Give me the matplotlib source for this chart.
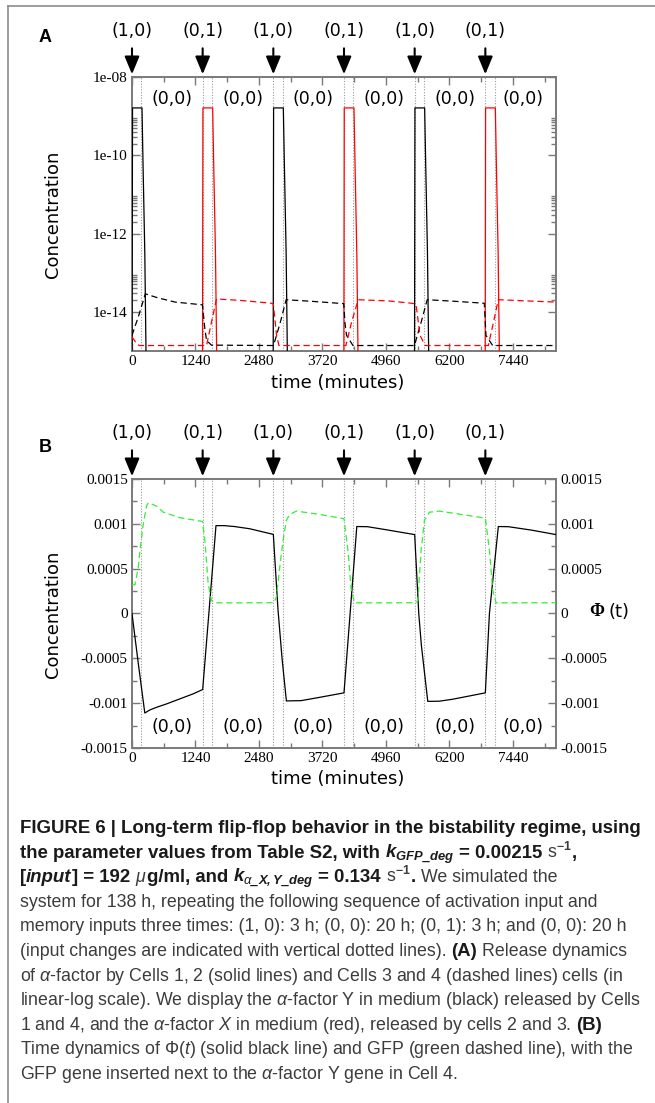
import numpy as np
import matplotlib
matplotlib.use("Agg")
import matplotlib.pyplot as plt
from matplotlib.lines import Line2D
from matplotlib.ticker import FixedLocator, MultipleLocator, NullFormatter
import matplotlib.transforms as mtransforms

plt.rcParams['axes.unicode_minus'] = False
plt.rcParams['mathtext.fontset'] = 'custom'
plt.rcParams['mathtext.rm'] = 'Liberation Sans'
plt.rcParams['mathtext.it'] = 'Liberation Sans:italic'
plt.rcParams['mathtext.bf'] = 'Liberation Sans:bold'
plt.rcParams['mathtext.bfit'] = 'Liberation Sans:italic:bold'

# input sequence (minutes)
arrow_times = [0, 1380, 2760, 4140, 5520, 6900]
arrow_labels = ['(1,0)', '(0,1)', '(1,0)', '(0,1)', '(1,0)', '(0,1)']
change_times = [180, 1380, 1560, 2760, 2940, 4140, 4320, 5520, 5700, 6900, 7080]
rest_times = [780, 2160, 3540, 4920, 6300, 7640]
rest_label = '(0,0)'

x_ticks = [0, 1240, 2480, 3720, 4960, 6200, 7440]
a_yticks = [1e-14, 1e-12, 1e-10, 1e-8]
a_ylabels = ['1e-14', '1e-12', '1e-10', '1e-08']
b_yticks = [-0.0015, -0.001, -0.0005, 0, 0.0005, 0.001, 0.0015]
b_ylabels = ['-0.0015', '-0.001', '-0.0005', '0', '0.0005', '0.001', '0.0015']

# panel A, log10 of concentration
a_black_t = [0, 10, 195, 215, 250, 275, 285, 2755, 2765, 2955, 2975, 3010, 3035, 3045,
             5515, 5525, 5715, 5735, 5770, 5795, 5805, 8280]
a_black_lg = [-16, -8.79, -8.79, -10.2, -12.5, -15.2, -17, -17, -8.79, -8.79, -10.2, -12.5, -15.2, -17,
              -17, -8.79, -8.79, -10.2, -12.5, -15.2, -17, -17]
a_red_t = [0, 1375, 1385, 1575, 1595, 1630, 1655, 1665, 4135, 4145, 4335, 4355, 4390, 4415, 4425,
           6895, 6905, 7095, 7115, 7150, 7175, 7185, 8280]
a_red_lg = [-17, -17, -8.79, -8.79, -10.2, -12.5, -15.2, -17, -17, -8.79, -8.79, -10.2, -12.5, -15.2, -17,
            -17, -8.79, -8.79, -10.2, -12.5, -15.2, -17, -17]
a_blackd_t = [0, 130, 260, 500, 840, 1375, 1420, 1456, 1550, 2760, 2800, 2900, 3010, 3500, 4135,
              4160, 4190, 4315, 5520, 5550, 5650, 5765, 6300, 6880, 6912, 7043, 8280]
a_blackd_lg = [-14.60, -14.10, -13.54, -13.64, -13.75, -13.82, -14.4, -14.73, -14.85, -14.86, -14.7,
               -14.25, -13.69, -13.73, -13.79, -14.3, -14.6, -14.86, -14.86, -14.7, -14.25, -13.69,
               -13.73, -13.78, -14.6, -14.86, -14.86]
a_redd_t = [0, 90, 140, 1380, 1456, 1553, 1650, 2138, 2723, 2760, 2823, 2870, 4140, 4177, 4288, 4418,
            5000, 5460, 5546, 5625, 5723, 6900, 6958, 7060, 7153, 7700, 8280]
a_redd_lg = [-14.64, -14.81, -14.86, -14.86, -14.86, -14.26, -13.67, -13.71, -13.78, -13.8, -14.6,
             -14.86, -14.86, -14.86, -14.26, -13.69, -13.72, -13.78, -13.8, -14.6, -14.86, -14.86,
             -14.86, -14.26, -13.69, -13.72, -13.75]

# panel B, values in units of 1e-4
phi_t = [0, 110, 250, 351, 481, 676, 935, 1195, 1380, 1488, 1640, 1800, 2000, 2300, 2760, 2850, 2930,
         3015, 3300, 3665, 4140, 4250, 4390, 4600, 4965, 5520, 5600, 5650, 5776, 6000, 6264, 6900,
         6980, 7154, 7350, 7800, 8280]
phi_v = [0, -5, -11.1, -10.75, -10.46, -10.08, -9.52, -8.96, -8.48, -0.9, 9.8, 9.8, 9.7, 9.45, 8.82,
         0.5, -5, -9.75, -9.72, -9.35, -8.85, -0.7, 9.7, 9.68, 9.34, 8.8, 0, -3.5, -9.8, -9.78, -9.56,
         -8.85, 0, 9.7, 9.68, 9.3, 8.8]
gfp_t = [0, 58, 124, 156, 221, 286, 325, 481, 611, 936, 1378, 1423, 1488, 1553, 1618, 2768, 2820, 2885,
         2950, 3015, 3080, 3210, 3665, 4140, 4217, 4282, 4347, 5536, 5581, 5646, 5711, 5809, 6004,
         6900, 6980, 7045, 7110, 8280]
gfp_v = [3.2, 3.2, 5.17, 7.03, 10.0, 12.05, 12.36, 11.97, 11.3, 10.68, 10.27, 8.15, 3.31, 1.45, 1.19,
         1.2, 1.82, 5.17, 8.15, 10.4, 11.05, 11.42, 11.05, 10.57, 7.03, 2.57, 1.19, 1.2, 1.45, 7.03,
         10.4, 11.3, 11.42, 10.64, 7.03, 2.57, 1.19, 1.2]

caption = [
    [("FIGURE 6 | Long-term flip-flop behavior in the bistability regime, using", 'b')],
    [("the parameter values from Table S2, with ", 'b'), (r"$\mathbfit{k}_{\mathbfit{GFP\_deg}}$", 'b'),
     (" = 0.00215 ", 'b'), (r"s$^{\mathbf{-1}}$", 'r'), (",", 'b')],
    [("[", 'b'), ("input", 'bi'), ("] = 192 ", 'b'), (r"$\mu$", 'r'), ("g/ml, and ", 'b'),
     (r"$\mathbfit{k}_{\alpha\mathbfit{\_X,Y\_deg}}$", 'b'), (" = 0.134 ", 'b'), (r"s$^{\mathbf{-1}}$", 'r'),
     (".", 'b'), (" We simulated the", 'r')],
    [("system for 138 h, repeating the following sequence of activation input and", 'r')],
    [("memory inputs three times: (1, 0): 3 h; (0, 0): 20 h; (0, 1): 3 h; and (0, 0): 20 h", 'r')],
    [("(input changes are indicated with vertical dotted lines). ", 'r'), ("(A)", 'b'),
     (" Release dynamics", 'r')],
    [(r"of $\alpha$-factor by Cells 1, 2 (solid lines) and Cells 3 and 4 (dashed lines) cells (in", 'r')],
    [(r"linear-log scale). We display the $\alpha$-factor Y in medium (black) released by Cells", 'r')],
    [(r"1 and 4, and the $\alpha$-factor $X$ in medium (red), released by cells 2 and 3. ", 'r'), ("(B)", 'b')],
    [(r"Time dynamics of Φ($t$) (solid black line) and GFP (green dashed line), with the", 'r')],
    [(r"GFP gene inserted next to the $\alpha$-factor Y gene in Cell 4.", 'r')],
]

W, H = 655, 1103
fig = plt.figure(figsize=(W / 100, H / 100), dpi=100)


def fx(px):
    return px / W


def fy(py):
    return 1 - py / H


# grey frame of the figure
fig.add_artist(Line2D([fx(8), fx(8)], [0, fy(6)], color='#8c8c8c', lw=1.2))
fig.add_artist(Line2D([fx(8), 1], [fy(6), fy(6)], color='#8c8c8c', lw=1.2))

axA = fig.add_axes([fx(132), fy(351), 424 / W, 274 / H])
axB = fig.add_axes([fx(132), fy(748), 424 / W, 269 / H])

tick_font = {'family': 'Liberation Serif', 'size': 11}


def style(ax):
    for s in ax.spines.values():
        s.set_color('#7a7a7a')
        s.set_linewidth(1.4)
    ax.set_xlim(0, 8280)
    ax.set_xticks(x_ticks)
    ax.set_xticklabels([str(v) for v in x_ticks], fontdict=tick_font)
    ax.xaxis.set_minor_locator(MultipleLocator(620))
    ax.tick_params(which='both', direction='in', top=True, right=True, color='#7a7a7a', width=1.0)
    ax.tick_params(which='major', length=6, pad=3)
    ax.tick_params(which='minor', length=3.5)
    for t in change_times:
        ax.axvline(t, color='#9a9a9a', ls=(0, (1, 1.5)), lw=0.8, zorder=1)
    tr = mtransforms.blended_transform_factory(ax.transData, ax.transAxes)
    for t, lab in zip(arrow_times, arrow_labels):
        ax.annotate(lab, xy=(t, 1.0), xycoords=tr, xytext=(0, 46), textcoords='offset pixels',
                    ha='center', va='center', fontsize=12.5, family='DejaVu Sans',
                    arrowprops=dict(arrowstyle='-|>,head_length=0.6,head_width=0.25', color='black',
                                    lw=1.5, shrinkA=4, shrinkB=2, mutation_scale=18),
                    annotation_clip=False)
    return tr


# ---- panel A
trA = style(axA)
axA.set_yscale('log')
axA.set_ylim(1e-15, 1e-8)
axA.set_yticks(a_yticks)
axA.set_yticklabels(a_ylabels, fontdict=tick_font)
axA.yaxis.set_minor_locator(FixedLocator([k * 10.0 ** m for m in (-14, -12, -10) for k in range(2, 10)]))
axA.yaxis.set_minor_formatter(NullFormatter())

axA.plot(a_black_t, 10 ** np.array(a_black_lg), color='black', lw=0.9, zorder=3)
axA.plot(a_red_t, 10 ** np.array(a_red_lg), color='#ff0000', lw=0.9, zorder=3)
axA.plot(a_blackd_t, 10 ** np.array(a_blackd_lg), color='black', lw=0.9, dashes=(5, 3), zorder=3)
axA.plot(a_redd_t, 10 ** np.array(a_redd_lg), color='#ff0000', lw=0.9, dashes=(5, 3), zorder=3)
for t in rest_times:
    axA.text(t, 0.92, rest_label, transform=trA, ha='center', va='center', fontsize=12.5, family='DejaVu Sans')

# ---- panel B
trB = style(axB)
axB.set_ylim(-0.0015, 0.0015)
axB.set_yticks(b_yticks)
axB.set_yticklabels(b_ylabels, fontdict=tick_font)
axB.yaxis.set_minor_locator(MultipleLocator(0.00025))
axB.tick_params(axis='y', which='both', labelright=True)
axB.plot(phi_t, np.array(phi_v) * 1e-4, color='black', lw=0.9, zorder=3)
axB.plot(gfp_t, np.array(gfp_v) * 1e-4, color='#33ee33', lw=0.9, dashes=(5, 3), zorder=3)
for t in rest_times:
    axB.text(t, 0.078, rest_label, transform=trB, ha='center', va='center', fontsize=12.5, family='DejaVu Sans')

# labels
for yc in (214, 614):
    fig.text(fx(53), fy(yc), 'Concentration', rotation=90, ha='center', va='center', fontsize=13,
             family='DejaVu Sans')
for yc in (383, 779):
    fig.text(fx(338), fy(yc), 'time (minutes)', ha='center', va='center', fontsize=13, family='DejaVu Sans')
fig.text(fx(45), fy(37), 'A', ha='center', va='center', fontsize=13, weight='bold', family='Liberation Sans')
fig.text(fx(45), fy(447), 'B', ha='center', va='center', fontsize=13, weight='bold', family='Liberation Sans')
fig.text(fx(597), fy(612), 'Φ', ha='center', va='center', fontsize=13, weight='bold', family='Liberation Serif')
fig.text(fx(609), fy(612), '(t)', ha='left', va='center', fontsize=13, family='DejaVu Sans')

# ---- caption
renderer = fig.canvas.get_renderer()
styles = {'b': dict(weight='bold', color='#1a1a1a'),
          'bi': dict(weight='bold', style='italic', color='#1a1a1a'),
          'r': dict(weight='normal', color='#3c3c3c')}


def width_of(s, size, st):
    t = fig.text(0, 0, s, fontsize=size, family='Liberation Sans', **styles[st])
    w = t.get_window_extent(renderer).width
    t.remove()
    return w


size_b = 10 * 623 / width_of(caption[0][0][0], 10, 'b')
size_r = 10 * 620 / width_of(caption[7][0][0], 10, 'r')
space_w = width_of("a a", size_r, 'r') - width_of("aa", size_r, 'r')

y0, dy = 833, 24.6
for i, segs in enumerate(caption):
    x = 20
    for s, st in segs:
        size = size_r if st == 'r' else size_b
        if s.startswith(' '):
            x += space_w
        t = fig.text(fx(x), fy(y0 + i * dy), s.strip(), fontsize=size, family='Liberation Sans',
                     va='baseline', ha='left', **styles[st])
        x += t.get_window_extent(renderer).width
        if s.endswith(' '):
            x += space_w

fig.savefig('out.png', dpi=100)
